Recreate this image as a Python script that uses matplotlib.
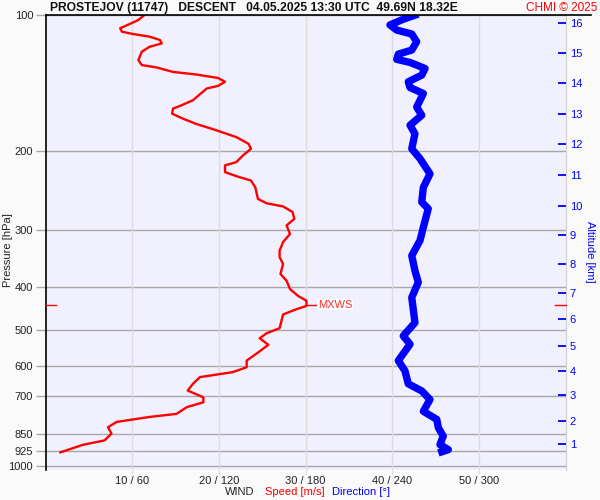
import numpy as np
import matplotlib
matplotlib.use('Agg')
import matplotlib.pyplot as plt
from matplotlib.ticker import NullLocator
from matplotlib.lines import Line2D

plt.rcParams['font.family'] = ['Liberation Sans', 'DejaVu Sans']

# wind speed profile (m/s) vs pressure (hPa)
speed_p = [100, 102.6, 104.7, 107, 108.9, 110.2, 111.7, 113.6, 115.6, 117.6, 120.6, 125.9,
           129.1, 130.7, 133.7, 135.5, 137.9, 140.6, 143.6, 145.5, 148.8, 154.5, 158.5, 161.3,
           165.5, 169.9, 174.4, 180.1, 186.5, 192.9, 197.9, 204.6, 211.9, 215.4, 223, 227.6,
           232.8, 241.1, 255.7, 261.4, 265.7, 273.4, 283.1, 292.8, 305.7, 318.7, 332.9, 344.2,
           356.3, 375, 388.1, 405, 419.1, 430, 441.4, 449.2, 461.2, 477.6, 494.6, 507.5, 520.7,
           538.3, 556.6, 583.6, 603.6, 618.9, 634.9, 657, 680, 704, 722, 740, 766, 778, 798,
           820, 847, 877, 897, 932]
speed = [11.4, 10.7, 9.7, 8.6, 8.8, 10.1, 12.0, 13.2, 13.4, 12.0, 11.1, 10.7,
         11.1, 12.8, 14.7, 17.4, 19.9, 20.7, 19.9, 18.6, 18.0, 17.0, 15.7, 14.7,
         14.6, 15.9, 17.4, 19.7, 22.0, 23.4, 23.7, 22.8, 22.0, 20.7, 20.7, 22.0,
         23.7, 24.2, 24.5, 25.5, 27.4, 28.5, 28.7, 27.8, 28.2, 27.4, 27.0, 27.0,
         27.4, 27.1, 27.8, 28.2, 29.1, 30.1, 30.1, 28.9, 27.4, 27.2, 27.0, 25.5, 24.7,
         25.7, 24.7, 23.2, 23.2, 21.6, 17.8, 17.0, 16.4, 18.2, 18.2, 16.3, 15.1, 12.0, 8.2,
         7.2, 7.6, 6.8, 4.3, 1.7]

# wind direction profile (deg) vs pressure (hPa)
dir_p = [99.5, 102.2, 105.2, 108, 110.2, 114.6, 119.6, 122.1, 125.4, 127.4, 131.4, 135.9,
         140.6, 144.8, 149.3, 160, 166.8, 175.5, 183.3, 197.9, 208.2, 225, 241.1, 259.8,
         268.8, 295.6, 316.2, 341.5, 368.8, 391.4, 422.8, 480.9, 514.5, 536.7, 583.6, 615.2,
         657.1, 681.3, 711.8, 755.9, 787.9, 822.1, 858.5, 896, 919.3, 935]
direction = [258.0, 247.6, 238.4, 243.1, 253.5, 256.9, 253.5, 244.2, 243.1, 252.3, 262.7, 260.4,
             251.1, 252.3, 261.5, 256.9, 260.4, 252.3, 255.7, 253.5, 259.2, 266.1, 261.5, 260.4,
             264.9, 261.5, 259.2, 253.5, 255.7, 258.0, 253.5, 255.7, 247.6, 252.3, 244.2, 248.8,
             251.1, 260.4, 266.1, 261.5, 270.8, 271.9, 275.3, 273.0, 278.8, 271.9]

p_ticks = [100, 200, 300, 400, 500, 600, 700, 850, 925, 1000]
x_ticks = [10, 20, 30, 40, 50]
x_labels = ['10 / 60', '20 / 120', '30 / 180', '40 / 240', '50 / 300']

alt_km = list(range(1, 17))
alt_p = [893.8, 796.2, 695.9, 614.4, 541.6, 472.8, 412.5, 356.2, 307.2, 265.4,
         226.1, 193.6, 165.5, 141.6, 121.4, 104.2]

mxws_p = 439
mxws_speed = 30.2

fig = plt.figure(figsize=(6, 5), dpi=100)
fig.patch.set_facecolor('#fafafa')
ax = fig.add_axes([45.6 / 600, 1 - 470 / 500, 520 / 600, 455 / 500])
ax.set_facecolor('#f0f0fe')

ax.set_yscale('log')
ax.set_ylim(1020, 100)
ax.set_xlim(0, 60)
ax.yaxis.set_minor_locator(NullLocator())
ax.set_yticks(p_ticks)
ax.set_yticklabels([str(p) for p in p_ticks])
ax.set_xticks(x_ticks)
ax.set_xticklabels(x_labels)

for p in p_ticks:
    ax.axhline(p, color='#a8a8a8', lw=1.0, zorder=1)
for xt in x_ticks:
    ax.axvline(xt, color='#dcdcdc', lw=1.0, zorder=1)

ax.tick_params(axis='y', direction='out', length=7, width=1, color='#a8a8a8',
               labelsize=8, labelcolor='#222222', pad=2)
ax.tick_params(axis='x', direction='out', length=3, width=1, color='#dcdcdc',
               labelsize=8, labelcolor='#222222', pad=1)

ax.spines['left'].set_color('black')
ax.spines['left'].set_linewidth(1.2)
ax.spines['right'].set_color('#d0d0d0')
ax.spines['bottom'].set_visible(False)
ax.spines['top'].set_visible(False)

ax.plot(speed, speed_p, color='#ff0000', lw=1.7, zorder=4)
ax.plot(np.array(direction) / 6.0, dir_p, color='#0000ff', lw=5.3, zorder=3,
        solid_capstyle='butt')

# MXWS marker
ax.plot([mxws_speed, mxws_speed + 1.0], [mxws_p, mxws_p], color='red', lw=1, zorder=4)
ax.text(mxws_speed + 1.2, mxws_p, 'MXWS', color='#ff3030', fontsize=8, va='center',
        ha='left', zorder=5,
        bbox=dict(facecolor='white', edgecolor='none', pad=0.5))
ax.plot([0, 1.2], [mxws_p, mxws_p], color='red', lw=1, clip_on=False, zorder=5)
ax.plot([58.8, 60], [mxws_p, mxws_p], color='red', lw=1, clip_on=False, zorder=5)

# altitude axis
ax2 = ax.twinx()
ax2.set_yscale('log')
ax2.set_ylim(1020, 100)
ax2.yaxis.set_minor_locator(NullLocator())
ax2.set_yticks(alt_p)
ax2.set_yticklabels([str(a) for a in alt_km])
ax2.tick_params(axis='y', direction='in', length=6, width=1.3, color='#0000ff',
                labelsize=8, labelcolor='#0000ff', pad=3)
for s in ax2.spines.values():
    s.set_visible(False)

# top black line
fig.add_artist(Line2D([45.6 / 600, 591 / 600], [1 - 15 / 500, 1 - 15 / 500],
                      color='black', lw=1.2))

fig.text(50 / 600, 1 - 8 / 500, 'PROSTEJOV (11747)   DESCENT   04.05.2025 13:30 UTC  49.69N 18.32E',
         fontsize=8.7, fontweight='bold', color='#111111', ha='left', va='center')
fig.text(597 / 600, 1 - 8 / 500, 'CHMI © 2025', fontsize=8.5, color='#ff0000',
         ha='right', va='center')

fig.text(8 / 600, 1 - 250 / 500, 'Pressure [hPa]', fontsize=8, color='#222222',
         rotation=90, ha='center', va='center')
fig.text(590 / 600, 1 - 252 / 500, 'Altitude [km]', fontsize=8, color='#0000ff',
         rotation=-90, ha='center', va='center')

fig.text(225 / 600, 1 - 492 / 500, 'WIND', fontsize=8, color='#222222', ha='left', va='center')
fig.text(265 / 600, 1 - 492 / 500, 'Speed [m/s]', fontsize=8, color='#ff0000', ha='left', va='center')
fig.text(332 / 600, 1 - 492 / 500, 'Direction [°]', fontsize=8, color='#0000ff', ha='left', va='center')

fig.savefig('out.png', dpi=100, facecolor=fig.get_facecolor())
